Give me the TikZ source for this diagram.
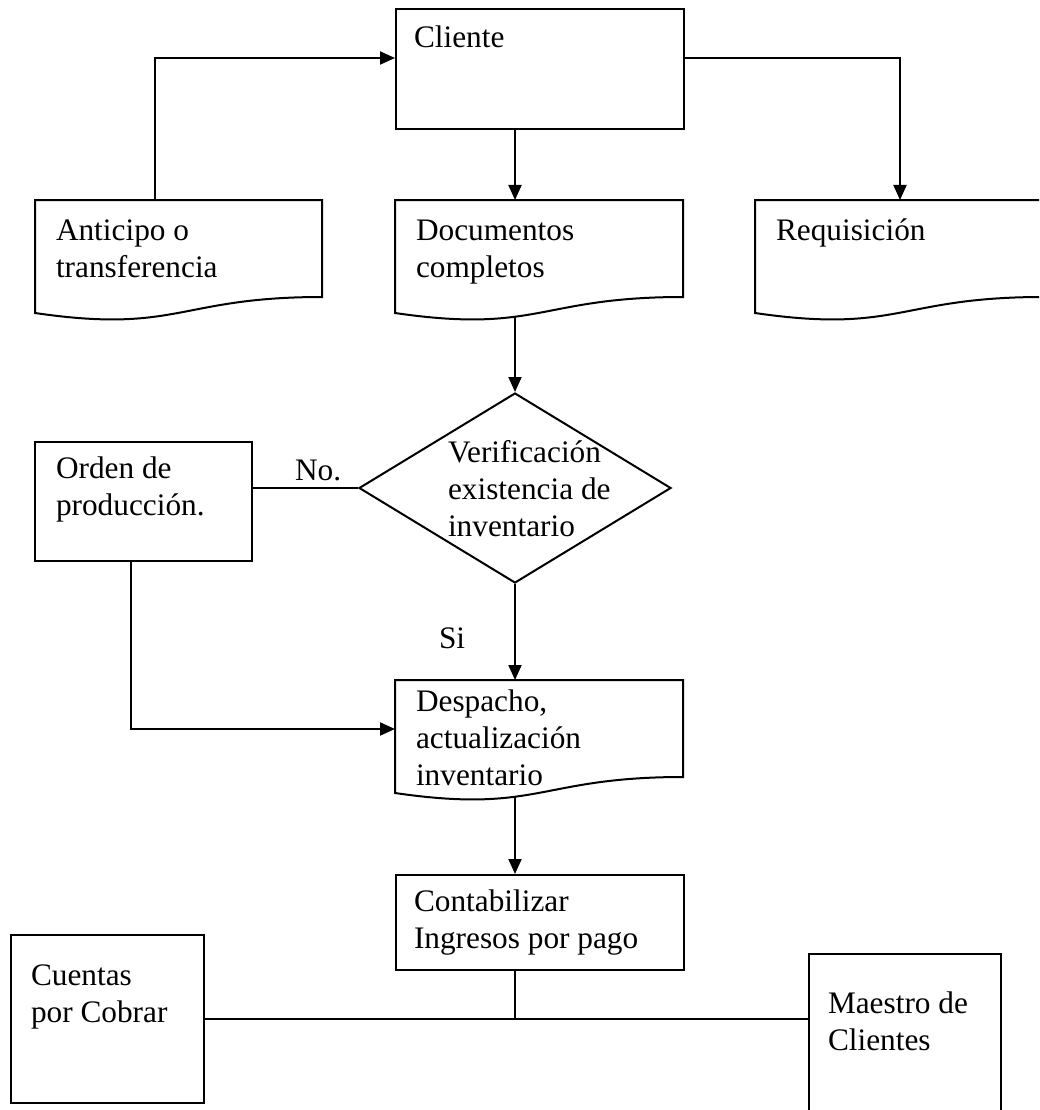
\documentclass[tikz,border=0pt]{standalone}
\usepackage{fontspec}
\setmainfont{Liberation Serif}
\usetikzlibrary{arrows.meta,shapes.geometric}

% document symbol: straight top and sides, wavy bottom edge
\newcommand\docsym[4]{%
  \node[inner sep=0pt, minimum width=#4pt, minimum height=121pt,
        anchor=north west] (#1) at (#2,#3) {};
  \draw[shift={(#2,#3)}] (0,0) -- (#4,0) -- (#4,97)
    .. controls ({#4/2},97) and ({#4/2},134) .. (0,113) -- cycle;
}

\begin{document}
\begin{tikzpicture}[x=1pt, y=-1pt, line width=2pt,
  lbl/.style={inner sep=0pt, anchor=base west, align=left,
              font=\fontsize{31.3}{37}\selectfont},
  box/.style={draw, rectangle, inner sep=0pt, anchor=north west},
  arr/.style={-{Triangle[length=15pt,width=13pt]}},
  decision/.style={draw, diamond, inner sep=0pt,
                   minimum width=312pt, minimum height=190pt}]
\useasboundingbox (0,0) rectangle (1039,1110);
\clip (0,0) rectangle (1039,1110);

% boxes
\node[box, minimum width=288pt, minimum height=120pt] (cliente) at (395,8) {};
\docsym{anticipo}{35}{200}{287}
\docsym{documentos}{395}{200}{288}
\docsym{requisicion}{755}{200}{288}
\node[decision] (verif) at (515,488) {};
\node[box, minimum width=217pt, minimum height=119pt] (orden) at (34,441) {};
\docsym{despacho}{395}{680}{288}
\node[box, minimum width=288pt, minimum height=95pt] (contab) at (395,874) {};
\node[box, minimum width=193pt, minimum height=168pt] (cuentas) at (10,934) {};
\node[box, minimum width=192pt, minimum height=180pt] (maestro) at (808,953) {};

% points where arrows leave the wavy edges
\coordinate (documentos-out) at (515,317);
\coordinate (despacho-out) at (515,797);

% texts (multi-line nodes sit on the baseline of their last line)
\node[lbl] (t-cliente) at (413,48) {Cliente};
\node[lbl] (t-anticipo) at (55,277) {Anticipo o\\transferencia};
\node[lbl] (t-documentos) at (415,277) {Documentos\\completos};
\node[lbl] (t-requisicion) at (775,240) {Requisición};
\node[lbl] (t-verif) at (447,536) {Verificación\\existencia de\\inventario};
\node[lbl] (t-orden) at (55,515) {Orden de\\producción.};
\node[lbl] (t-no) at (294,480) {No.};
\node[lbl] (t-si) at (438,648) {Si};
\node[lbl] (t-despacho) at (415,785) {Despacho,\\actualización\\inventario};
\node[lbl] (t-contab) at (413,948) {Contabilizar\\Ingresos por pago};
\node[lbl] (t-cuentas) at (30,1022) {Cuentas\\por Cobrar};
\node[lbl] (t-maestro) at (827,1050) {Maestro de\\Clientes};

% connectors
\draw[arr] ([xshift=120pt]anticipo.north west) |- ([yshift=11pt]cliente.west);
\draw[arr] ([yshift=11pt]cliente.east) -| (requisicion.north);
\draw[arr] ([xshift=120pt]cliente.south west) -- ([xshift=120pt]documentos.north west);
\draw[arr] (documentos-out) -- (verif.north);
\draw (verif.west) -- (verif.west -| orden.east);
\draw[arr] ([xshift=97pt]orden.south west) |- ([yshift=12.5pt]despacho.west);
\draw[arr] (verif.south) -- ([xshift=120pt]despacho.north west);
\draw[arr] (despacho-out) -- ([xshift=120pt]contab.north west);
\draw (cuentas.east) -- (cuentas.east -| maestro.west);
\draw ([xshift=120pt]contab.south west) -- ([xshift=120pt]contab.south west |- cuentas.east);
\end{tikzpicture}
\end{document}
